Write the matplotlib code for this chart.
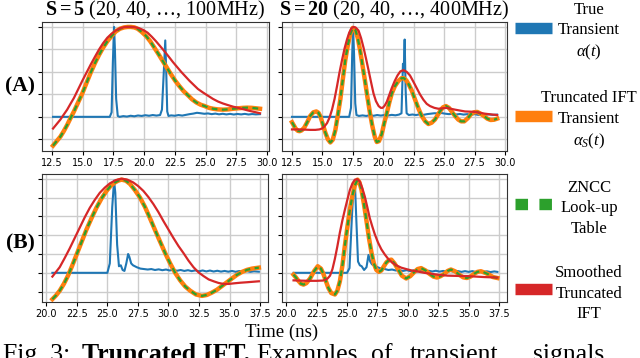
import matplotlib.pyplot as plt
from matplotlib.lines import Line2D

plt.rcParams['mathtext.fontset'] = 'custom'
plt.rcParams['mathtext.rm'] = 'Liberation Serif'
plt.rcParams['mathtext.it'] = 'Liberation Serif:italic'
plt.rcParams['mathtext.bf'] = 'Liberation Serif:bold'

SERIF = 'Liberation Serif'
BLUE, ORANGE, GREEN, RED = '#1f77b4', '#ff7f0e', '#2ca02c', '#d62728'

# ---- (A) S = 5 ----
t_a5_true = [12.58, 17.2, 17.35, 17.45, 17.55, 17.62, 17.72, 17.85, 18.0, 18.3, 18.6, 18.9, 19.2,
             19.5, 19.8, 20.1, 20.4, 20.7, 21.0, 21.3, 21.45, 21.6, 21.72, 21.8, 21.88, 21.98, 22.2,
             22.5, 22.8, 23.1, 23.4, 23.7, 24.0, 24.3, 24.6, 24.9, 25.2, 25.5, 25.8, 26.1, 26.4,
             26.7, 27.0, 27.3, 27.6, 27.9, 28.2, 28.5, 28.8, 29.1, 29.44]
a5_true = [0.0, 0.0, 0.05, 0.6, 1.0, 0.75, 0.2, 0.01, 0.0, 0.008, 0.003, 0.012, 0.006,
           0.015, 0.01, 0.018, 0.012, 0.02, 0.014, 0.02, 0.08, 0.5, 0.85, 0.5, 0.06, 0.01, 0.016,
           0.012, 0.02, 0.014, 0.022, 0.03, 0.036, 0.045, 0.04, 0.034, 0.038, 0.03, 0.036, 0.028,
           0.034, 0.027, 0.033, 0.026, 0.032, 0.027, 0.033, 0.026, 0.031, 0.027, 0.03]

t_a5_ift = [12.58, 12.88, 13.18, 13.45, 13.73, 14.0, 14.28, 14.62, 14.96, 15.3, 15.64, 16.0, 16.33,
            16.66, 17.0, 17.35, 17.69, 18.03, 18.37, 18.65, 18.92, 19.2, 19.47, 19.8, 20.15, 20.5,
            20.83, 21.18, 21.52, 21.86, 22.2, 22.54, 22.88, 23.22, 23.57, 23.9, 24.25, 24.6, 24.93,
            25.28, 25.62, 26.0, 26.43, 26.85, 27.25, 27.65, 28.07, 28.4, 28.76, 29.1, 29.44]
a5_ift = [-0.32, -0.27, -0.22, -0.16, -0.09, -0.015, 0.06, 0.16, 0.26, 0.375, 0.49, 0.60, 0.69,
          0.77, 0.84, 0.90, 0.95, 0.98, 0.995, 1.0, 1.0, 0.995, 0.98, 0.945, 0.90, 0.84,
          0.77, 0.695, 0.62, 0.545, 0.47, 0.40, 0.34, 0.285, 0.24, 0.195, 0.16, 0.135, 0.12,
          0.10, 0.09, 0.083, 0.08, 0.083, 0.09, 0.095, 0.10, 0.102, 0.10, 0.095, 0.09]

t_a5_smooth = [12.58, 12.88, 13.18, 13.45, 13.73, 14.0, 14.28, 14.62, 14.96, 15.3, 15.64, 16.0,
               16.33, 16.66, 17.0, 17.35, 17.69, 18.03, 18.37, 18.65, 18.92, 19.25, 19.6, 19.95,
               20.29, 20.63, 20.97, 21.31, 21.65, 22.0, 22.34, 22.68, 23.02, 23.36, 23.7, 24.04,
               24.38, 24.8, 25.2, 25.6, 26.02, 26.43, 26.84, 27.25, 27.66, 28.07, 28.48, 28.96,
               29.44]
a5_smooth = [-0.13, -0.08, -0.03, 0.025, 0.08, 0.145, 0.21, 0.305, 0.40, 0.49, 0.58, 0.67,
             0.75, 0.82, 0.88, 0.925, 0.96, 0.985, 0.998, 1.0, 1.0, 0.997, 0.985, 0.965,
             0.935, 0.89, 0.84, 0.785, 0.73, 0.67, 0.61, 0.555, 0.50, 0.45, 0.40, 0.355,
             0.31, 0.27, 0.235, 0.20, 0.17, 0.148, 0.13, 0.113, 0.10, 0.085, 0.07, 0.055,
             0.04]

# ---- (A) S = 20 ----
t_a20_true = [12.5, 17.2, 17.35, 17.45, 17.52, 17.6, 17.7, 17.8, 18.0, 18.3, 18.6, 18.9, 19.2,
              19.5, 19.8, 20.1, 20.4, 20.7, 21.0, 21.3, 21.5, 21.62, 21.68, 21.76, 21.84, 21.92,
              22.1, 22.4, 22.7, 23.0, 23.3, 23.6, 23.9, 24.2, 24.5, 24.8, 25.1, 25.4, 25.7, 26.0,
              26.3, 26.6, 26.9, 27.2, 27.5, 27.8, 28.1, 28.4, 28.7, 29.0, 29.36]
a20_true = [0.0, 0.0, 0.1, 0.7, 0.99, 0.7, 0.15, 0.02, 0.01, 0.016, 0.01, 0.018, 0.012,
            0.02, 0.014, 0.02, 0.015, 0.022, 0.017, 0.025, 0.04, 0.59, 0.5, 0.86, 0.3, 0.04,
            0.02, 0.026, 0.02, 0.028, 0.022, 0.03, 0.035, 0.04, 0.038, 0.042, 0.035, 0.03, 0.034,
            0.026, 0.032, 0.025, 0.03, 0.024, 0.03, 0.022, 0.028, 0.023, 0.027, 0.022, 0.025]

t_a20_ift = [12.5, 12.65, 12.8, 12.97, 13.13, 13.3, 13.51, 13.75, 14.0, 14.25, 14.5, 14.68, 14.85,
             15.05, 15.24, 15.45, 15.65, 15.85, 16.06, 16.27, 16.47, 16.68, 16.88, 17.08, 17.29,
             17.5, 17.7, 17.9, 18.1, 18.3, 18.5, 18.7, 18.9, 19.1, 19.3, 19.47, 19.65, 19.88,
             20.08, 20.29, 20.5, 20.7, 20.95, 21.25, 21.5, 21.7, 21.9, 22.1, 22.35, 22.62, 22.9,
             23.16, 23.45, 23.71, 23.98, 24.25, 24.45, 24.66, 24.9, 25.15, 25.4, 25.62, 25.9,
             26.16, 26.4, 26.66, 26.95, 27.21, 27.45, 27.73, 28.0, 28.27, 28.55, 28.82, 29.1,
             29.36]
a20_ift = [-0.06, -0.095, -0.13, -0.155, -0.16, -0.15, -0.12, -0.06, 0.01, 0.05, 0.06, 0.045, 0.0,
           -0.09, -0.175, -0.25, -0.285, -0.255, -0.15, 0.02, 0.19, 0.42, 0.63, 0.79, 0.92,
           0.99, 0.97, 0.88, 0.74, 0.57, 0.40, 0.22, 0.05, -0.10, -0.22, -0.28, -0.27, -0.19,
           -0.07, 0.04, 0.16, 0.26, 0.34, 0.40, 0.43, 0.43, 0.405, 0.36, 0.29, 0.19, 0.09,
           0.01, -0.05, -0.08, -0.065, -0.03, 0.015, 0.06, 0.105, 0.12, 0.10, 0.06, 0.01,
           -0.03, -0.05, -0.05, -0.015, 0.03, 0.05, 0.055, 0.035, 0.01, -0.02, -0.035, -0.032,
           -0.02]

t_a20_smooth = [12.5, 13.0, 13.5, 14.0, 14.42, 14.75, 14.97, 15.18, 15.38, 15.58, 15.79, 16.0,
                16.2, 16.4, 16.61, 16.82, 17.02, 17.2, 17.38, 17.55, 17.72, 17.97, 18.18, 18.38,
                18.59, 18.79, 19.0, 19.2, 19.4, 19.62, 19.8, 19.95, 20.12, 20.3, 20.5, 20.7,
                20.93, 21.17, 21.4, 21.66, 21.93, 22.2, 22.48, 22.75, 23.02, 23.3, 23.57, 23.84,
                24.2, 24.53, 24.87, 25.21, 25.55, 25.9, 26.3, 26.72, 27.1, 27.53, 27.95, 28.36,
                28.86, 29.36]
a20_smooth = [-0.14, -0.14, -0.142, -0.145, -0.145, -0.14, -0.13, -0.105, -0.07, -0.01, 0.08, 0.2,
              0.34, 0.49, 0.63, 0.76, 0.86, 0.935, 0.985, 1.0, 0.995, 0.96, 0.875, 0.77,
              0.645, 0.52, 0.385, 0.26, 0.175, 0.12, 0.1, 0.1, 0.125, 0.17, 0.245, 0.32,
              0.395, 0.46, 0.505, 0.52, 0.5, 0.46, 0.39, 0.32, 0.25, 0.19, 0.145, 0.12,
              0.1, 0.09, 0.095, 0.1, 0.09, 0.08, 0.07, 0.06, 0.058, 0.055, 0.045, 0.035,
              0.027, 0.02]

# ---- (B) S = 5 ----
t_b5_true = [20.5, 25.0, 25.2, 25.4, 25.55, 25.65, 25.8, 25.95, 26.1, 26.25, 26.4, 26.55, 26.7,
             26.8, 26.95, 27.1, 27.4, 27.7, 28.0, 28.3, 28.6, 28.9, 29.2, 29.5, 29.8, 30.1, 30.4,
             30.7, 31.0, 31.3, 31.6, 31.9, 32.2, 32.5, 32.8, 33.1, 33.4, 33.7, 34.0, 34.3, 34.6,
             34.9, 35.2, 35.5, 35.8, 36.1, 36.4, 36.7, 37.0, 37.4]
b5_true = [0.0, 0.0, 0.1, 0.7, 0.98, 0.85, 0.3, 0.07, 0.08, 0.03, 0.02, 0.1, 0.2,
           0.17, 0.1, 0.08, 0.06, 0.045, 0.04, 0.035, 0.04, 0.03, 0.037, 0.028, 0.035, 0.025, 0.032,
           0.022, 0.03, 0.02, 0.028, 0.018, 0.026, 0.016, 0.025, 0.015, 0.024, 0.014, 0.022, 0.013,
           0.02, 0.012, 0.02, 0.011, 0.019, 0.011, 0.018, 0.01, 0.016, 0.012]

t_b5_ift = [20.5, 20.8, 21.1, 21.45, 21.78, 22.12, 22.47, 22.88, 23.29, 23.7, 24.1, 24.5, 24.93,
            25.28, 25.62, 25.9, 26.16, 26.5, 26.85, 27.25, 27.67, 28.08, 28.49, 28.9, 29.32,
            29.73, 30.14, 30.55, 30.96, 31.37, 31.78, 32.25, 32.74, 33.15, 33.56, 33.97, 34.38,
            34.79, 35.2, 35.6, 36.03, 36.45, 36.85, 37.4]
b5_ift = [-0.28, -0.24, -0.19, -0.115, -0.03, 0.075, 0.19, 0.325, 0.46, 0.58, 0.69, 0.785, 0.87,
          0.925, 0.96, 0.98, 0.99, 0.98, 0.945, 0.88, 0.80, 0.70, 0.58, 0.455, 0.33,
          0.21, 0.10, 0.0, -0.08, -0.145, -0.19, -0.23, -0.245, -0.235, -0.21, -0.18, -0.14,
          -0.10, -0.06, -0.022, 0.01, 0.032, 0.045, 0.055]

t_b5_smooth = [20.5, 20.8, 21.1, 21.5, 21.92, 22.33, 22.74, 23.15, 23.56, 23.97, 24.38, 24.79,
               25.2, 25.68, 26.16, 26.64, 27.12, 27.54, 27.95, 28.36, 28.77, 29.18, 29.59, 30.0,
               30.41, 30.82, 31.23, 31.64, 32.05, 32.46, 32.88, 33.29, 33.7, 34.11, 34.52, 34.93,
               35.34, 35.9, 36.44, 37.4]
b5_smooth = [-0.04, 0.01, 0.06, 0.155, 0.26, 0.37, 0.48, 0.59, 0.69, 0.775, 0.85, 0.905,
             0.95, 0.985, 1.0, 0.99, 0.96, 0.92, 0.87, 0.805, 0.73, 0.645, 0.55, 0.46,
             0.37, 0.285, 0.21, 0.13, 0.06, 0.005, -0.035, -0.07, -0.09, -0.108, -0.118, -0.118,
             -0.112, -0.105, -0.1, -0.09]

# ---- (B) S = 20 ----
t_b20_true = [20.6, 25.0, 25.2, 25.4, 25.55, 25.64, 25.75, 25.9, 26.05, 26.2, 26.4, 26.6, 26.76,
              26.9, 27.05, 27.2, 27.5, 27.8, 28.1, 28.4, 28.7, 29.0, 29.3, 29.6, 29.9, 30.2, 30.5,
              30.8, 31.1, 31.4, 31.7, 32.0, 32.3, 32.6, 32.9, 33.2, 33.5, 33.8, 34.1, 34.4, 34.7,
              35.0, 35.3, 35.6, 35.9, 36.2, 36.5, 36.8, 37.1, 37.36]
b20_true = [0.0, 0.0, 0.05, 0.6, 0.95, 0.97, 0.6, 0.12, 0.08, 0.07, 0.03, 0.06, 0.19,
            0.12, 0.09, 0.08, 0.06, 0.045, 0.04, 0.03, 0.035, 0.025, 0.03, 0.02, 0.028, 0.018, 0.026,
            0.016, 0.024, 0.015, 0.022, 0.014, 0.022, 0.013, 0.02, 0.012, 0.02, 0.011, 0.019, 0.01,
            0.018, 0.01, 0.018, 0.009, 0.017, 0.009, 0.016, 0.008, 0.015, 0.01]

t_b20_ift = [20.6, 20.8, 21.0, 21.2, 21.42, 21.65, 21.96, 22.3, 22.59, 22.85, 23.05, 23.25, 23.46,
             23.7, 24.0, 24.2, 24.41, 24.62, 24.82, 25.03, 25.23, 25.44, 25.64, 25.86, 26.02,
             26.19, 26.4, 26.6, 26.8, 27.0, 27.2, 27.41, 27.62, 27.82, 28.03, 28.23, 28.45,
             28.64, 28.9, 29.18, 29.5, 29.86, 30.2, 30.54, 30.8, 31.09, 31.45, 31.77, 32.1,
             32.4, 32.7, 33.0, 33.27, 33.54, 33.9, 34.22, 34.55, 34.85, 35.15, 35.45, 35.72,
             36.0, 36.35, 36.68, 37.0, 37.36]
b20_ift = [-0.02, -0.05, -0.085, -0.115, -0.125, -0.11, -0.06, 0.02, 0.07, 0.045, -0.01, -0.085,
           -0.16, -0.215, -0.23, -0.19, -0.09, 0.08, 0.29, 0.49, 0.67, 0.82, 0.93, 0.99, 0.96,
           0.88, 0.72, 0.55, 0.37, 0.22, 0.1, 0.03, 0.01, 0.025, 0.07, 0.11, 0.135,
           0.14, 0.1, 0.04, -0.03, -0.06, -0.035, 0.01, 0.04, 0.05, 0.025, -0.01, -0.04,
           -0.05, -0.035, -0.01, 0.02, 0.035, 0.015, -0.02, -0.048, -0.055, -0.04, -0.01, 0.01,
           0.017, 0.0, -0.02, -0.045, -0.055]

t_b20_smooth = [20.6, 21.2, 21.83, 22.5, 23.0, 23.19, 23.4, 23.6, 23.8, 24.0, 24.2, 24.41, 24.62,
                24.82, 25.03, 25.23, 25.44, 25.64, 25.85, 26.05, 26.25, 26.46, 26.67, 26.87,
                27.08, 27.28, 27.55, 27.82, 28.1, 28.37, 28.7, 29.05, 29.45, 29.86, 30.3, 30.81,
                31.35, 31.9, 32.6, 33.27, 34.1, 34.9, 35.6, 36.27, 37.36]
b20_smooth = [-0.08, -0.083, -0.085, -0.085, -0.082, -0.075, -0.06, -0.03, 0.04, 0.15, 0.28, 0.43,
              0.56, 0.67, 0.78, 0.88, 0.95, 0.99, 0.995, 0.97, 0.9, 0.81, 0.695, 0.58,
              0.49, 0.41, 0.32, 0.25, 0.195, 0.15, 0.11, 0.08, 0.055, 0.04, 0.025, 0.014,
              0.0, -0.01, -0.022, -0.03, -0.033, -0.035, -0.04, -0.045, -0.05]

panels = [
    (t_a5_true, a5_true, t_a5_ift, a5_ift, t_a5_smooth, a5_smooth),
    (t_a20_true, a20_true, t_a20_ift, a20_ift, t_a20_smooth, a20_smooth),
    (t_b5_true, b5_true, t_b5_ift, b5_ift, t_b5_smooth, b5_smooth),
    (t_b20_true, b20_true, t_b20_ift, b20_ift, t_b20_smooth, b20_smooth),
]
titles = [r'$\mathbf{S=5}$ (20, 40, …, 100MHz)', r'$\mathbf{S=20}$ (20, 40, …, 400MHz)']
row_labels = ['(A)', '(B)']
top_xticks = [12.5, 15.0, 17.5, 20.0, 22.5, 25.0, 27.5, 30.0]
bot_xticks = [20.0, 22.5, 25.0, 27.5, 30.0, 32.5, 35.0, 37.5]
top_yticks = [-0.25, 0.0, 0.25, 0.5, 0.75, 1.0]
bot_yticks = [-0.2, 0.0, 0.2, 0.4, 0.6, 0.8, 1.0]
legend_labels = ['True\nTransient\n$\\alpha(t)$', 'Truncated IFT\nTransient\n$\\alpha_S(t)$',
                 'ZNCC\nLook-up\nTable', 'Smoothed\nTruncated\nIFT']
caption_words = ['Fig. 3:', 'Truncated IFT.', 'Examples', 'of', 'transient', 'signals']

W, H = 640, 358
fig = plt.figure(figsize=(6.4, 3.58), dpi=100)

boxes = [(42, 22, 269, 151), (282, 22, 507, 151), (42, 174, 268, 302), (282, 174, 507, 302)]
for i, (x0, y0, x1, y1) in enumerate(boxes):
    ax = fig.add_axes([x0 / W, 1 - y1 / H, (x1 - x0) / W, (y1 - y0) / H])
    t_true, v_true, t_ift, v_ift, t_sm, v_sm = panels[i]
    ax.plot(t_true, v_true, color=BLUE, lw=1.5, zorder=3)
    ax.plot(t_ift, v_ift, color=ORANGE, lw=3.2, zorder=4, solid_joinstyle='round')
    ax.plot(t_ift, v_ift, color=GREEN, lw=1.6, dashes=(2.6, 2.0), zorder=5)
    ax.plot(t_sm, v_sm, color=RED, lw=1.6, zorder=6, solid_joinstyle='round')
    if i < 2:
        ax.set_xlim(11.68, 30.17)
        ax.set_xticks(top_xticks)
        ax.set_ylim(-0.38, 1.055)
        ax.set_yticks(top_yticks)
        ax.set_title(titles[i], family=SERIF, fontsize=14.5, pad=2)
    else:
        ax.set_xlim(19.65, 38.15)
        ax.set_xticks(bot_xticks)
        ax.set_ylim(-0.31, 1.05)
        ax.set_yticks(bot_yticks)
    ax.set_xticklabels([f'{v:.1f}' for v in ax.get_xticks()])
    ax.set_yticklabels([])
    ax.tick_params(labelsize=7, length=3, width=0.8, pad=2)
    ax.grid(True, color='#cccccc', lw=1.0)
    ax.set_axisbelow(True)
    for s in ax.spines.values():
        s.set_linewidth(0.8)
        s.set_color('#333333')

fig.text(20 / W, 1 - 86 / H, row_labels[0], family=SERIF, fontweight='bold', fontsize=15.5,
         ha='center', va='center')
fig.text(20 / W, 1 - 243 / H, row_labels[1], family=SERIF, fontweight='bold', fontsize=15.5,
         ha='center', va='center')
fig.text(282 / W, 1 - 332 / H, 'Time (ns)', family=SERIF, fontsize=13.5, ha='center', va='center')

# legend drawn beside the panels
colors = [BLUE, ORANGE, GREEN, RED]
centers = [27.5, 116, 204, 289]
for lab, col, yc in zip(legend_labels, colors, centers):
    y = 1 - yc / H
    kw = dict(dashes=(1.1, 1.0)) if col == GREEN else {}
    fig.add_artist(Line2D([515 / W, 552 / W], [y, y], transform=fig.transFigure, color=col,
                          lw=8.2, solid_capstyle='butt', dash_capstyle='butt', **kw))
    fig.text(589 / W, 1 - (yc + 4.5) / H, lab, family=SERIF, fontsize=12, ha='center',
             va='center', multialignment='center', linespacing=1.38)

# caption, cut by the lower edge as in the source
cap_x = [3, 82, 256, 371, 410, 533]
for word, x in zip(caption_words, cap_x):
    fig.text(x / W, 1 - 361 / H, word, family=SERIF, fontsize=18.5, ha='left', va='baseline',
             fontweight='bold' if word == 'Truncated IFT.' else 'normal')

fig.savefig('out.png', dpi=100)
